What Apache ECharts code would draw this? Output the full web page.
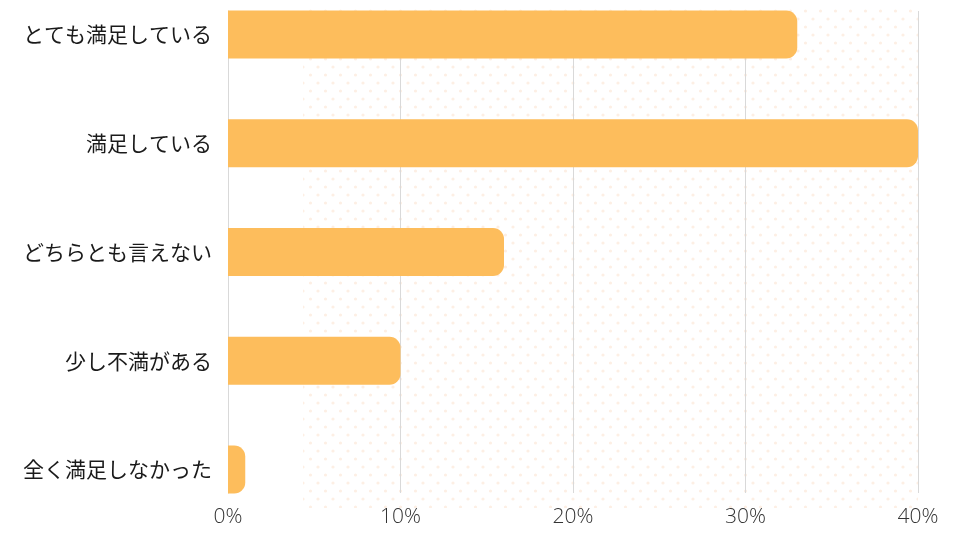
<!DOCTYPE html>
<html><head><meta charset="utf-8">
<script src="https://cdn.jsdelivr.net/npm/echarts@6/dist/echarts.min.js"></script>
<style>html,body{margin:0;padding:0;background:#fff}#c{width:960px;height:540px}</style>
</head><body><div id="c"></div>
<script>
const categories = ['とても満足している','満足している','どちらとも言えない','少し不満がある','全く満足しなかった'];
const values = [33, 40, 16, 10, 1];
const tickMax = 40, tickStep = 10;

// dotted background pattern
const pc = document.createElement('canvas');
pc.width = 15; pc.height = 16;
const g = pc.getContext('2d');
g.fillStyle = '#fdefe4';
[[3,3],[10.5,11]].forEach(p=>{g.beginPath();g.arc(p[0],p[1],1.6,0,Math.PI*2);g.fill();});

const chart = echarts.init(document.getElementById('c'));
chart.setOption({
  animation:false,
  backgroundColor:'#fff',
  graphic:[{type:'rect',z:-10,shape:{x:303,y:6,width:615,height:502},style:{fill:{image:pc,repeat:'repeat'}},silent:true}],
  grid:[
    {left:228,right:42,top:11,bottom:47},
    {left:228,right:42,top:34.5,bottom:70.5}
  ],
  xAxis:[
    {gridIndex:0,type:'value',min:0,max:tickMax,interval:tickStep,
     axisLine:{show:false},axisTick:{show:false},
     splitLine:{lineStyle:{color:'#d9d9d9',width:1}},
     axisLabel:{formatter:'{value}%',color:'#333',fontSize:21,fontWeight:300,fontFamily:'Open Sans',margin:14}},
    {gridIndex:1,type:'value',min:0,max:tickMax,show:false}
  ],
  yAxis:[
    {gridIndex:0,type:'category',data:categories,inverse:true,show:true,
     axisLine:{show:true,lineStyle:{color:'#d9d9d9'}},axisTick:{show:false},axisLabel:{show:false}},
    {gridIndex:1,type:'category',data:categories,inverse:true,boundaryGap:false,
     axisLine:{show:false},axisTick:{show:false},
     axisLabel:{color:'#1a1a1a',fontSize:21,fontFamily:'Noto Sans CJK JP',margin:16}}
  ],
  series:[{type:'bar',xAxisIndex:1,yAxisIndex:1,data:values,barWidth:48,
    itemStyle:{color:'#fdbd5c',borderRadius:[0,11,11,0]}}]
});
</script></body></html>
